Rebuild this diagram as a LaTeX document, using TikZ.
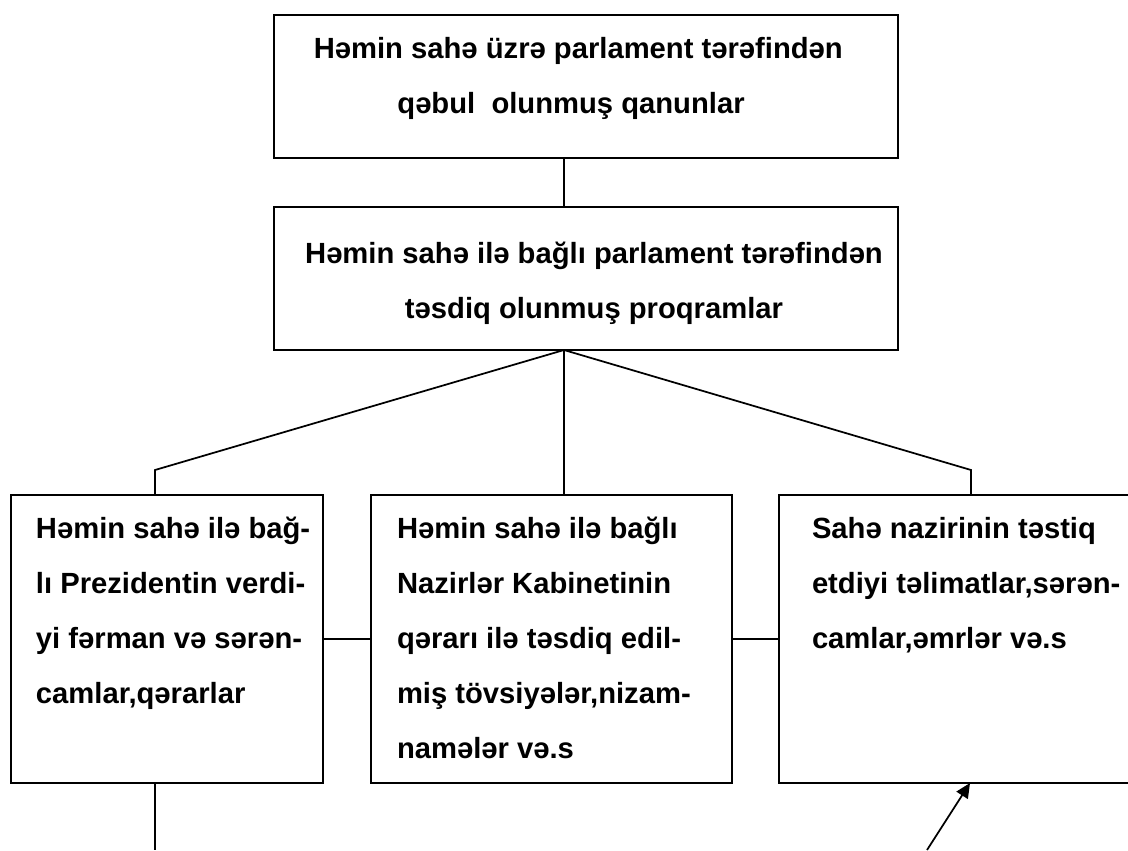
\documentclass[tikz,border=0pt]{standalone}
\usepackage{fontspec}
\setmainfont{Liberation Sans}
\usetikzlibrary{arrows.meta}
\begin{document}
\begin{tikzpicture}[x=0.75pt,y=-0.75pt,
  box/.style={draw, line width=1.3pt, rectangle, inner sep=0pt, outer sep=0pt},
  txt/.style={inner sep=0pt, outer sep=0pt, font=\fontsize{21.9}{41.25}\selectfont\bfseries},
  conn/.style={line width=1.3pt}]
\useasboundingbox (0,0) rectangle (1128,850);
\fill[white] (0,0) rectangle (1128,850);
% boxes
\node[box, minimum width=468pt, minimum height=107.25pt] (law) at (586,86.5) {};
\node[box, minimum width=468pt, minimum height=107.25pt] (prog) at (586,278.5) {};
\node[box, minimum width=234pt, minimum height=216pt] (pres) at (167,639) {};
\node[box, minimum width=270.75pt, minimum height=216pt] (cab) at (551.5,639) {};
\node[box, minimum width=270.75pt, minimum height=216pt] (min) at (959.5,639) {};
% texts
\node[txt, anchor=base] (lawt) at (571,58) {\parbox[t]{460pt}{\centering\hspace*{11pt}Həmin sahə üzrə parlament tərəfindən\\qəbul~~olunmuş qanunlar}};
\node[txt, anchor=base] (progt) at (594,263) {\parbox[t]{460pt}{\centering Həmin sahə ilə bağlı parlament tərəfindən\\təsdiq olunmuş proqramlar}};
\node[txt, anchor=base west] (prest) at (36,538) {\parbox[t]{230pt}{\raggedright Həmin sahə ilə bağ-\\lı Prezidentin verdi-\\yi fərman və sərən-\\camlar,qərarlar}};
\node[txt, anchor=base west] (cabt) at (397,538) {\parbox[t]{260pt}{\raggedright Həmin sahə ilə bağlı\\Nazirlər Kabinetinin\\qərarı ilə təsdiq edil-\\miş tövsiyələr,nizam-\\namələr və.s}};
\node[txt, anchor=base west] (mint) at (812,538) {\parbox[t]{260pt}{\raggedright Sahə nazirinin təstiq\\etdiyi təlimatlar,sərən-\\camlar,əmrlər və.s}};
% connectors
\coordinate (hub) at (564,350);
\coordinate (kl) at (155,470);
\coordinate (kr) at (971,470);
\coordinate (bl) at (155,850);
\coordinate (as) at (927,850);
\coordinate (ae) at (970,783);
\draw[conn] (law.south -| hub) -- (prog.north -| hub);
\draw[conn] (hub) -- (kl) -- (kl |- pres.north);
\draw[conn] (hub) -- (hub |- cab.north);
\draw[conn] (hub) -- (kr) -- (kr |- min.north);
\draw[conn] (pres.east) -- (cab.west);
\draw[conn] (cab.east) -- (min.west);
\draw[conn] (bl |- pres.south) -- (bl);
\draw[conn, -{Triangle[length=11pt,width=10pt]}] (as) -- (ae);
\end{tikzpicture}
\end{document}
